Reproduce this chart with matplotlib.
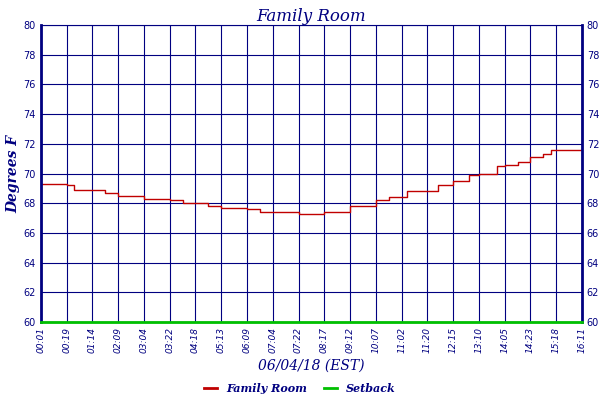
import matplotlib.pyplot as plt
from matplotlib.lines import Line2D

# tick labels along the time axis
time_labels = ['00:01', '00:19', '01:14', '02:09', '03:04', '03:22', '04:18', '05:13', '06:09', '07:04',
               '07:22', '08:17', '09:12', '10:07', '11:02', '11:20', '12:15', '13:10', '14:05', '14:23',
               '15:18', '16:11']
# readings: position (in tick units) and temperature
room_pos = [0, 1.0, 1.3, 2.0, 2.5, 3.0, 4.0, 5.0, 5.5, 6.0, 6.5, 7.0, 8.0, 8.5, 9.0, 10.0, 11.0,
            11.6, 12.0, 12.6, 13.0, 13.5, 14.2, 15.0, 15.4, 16.0, 16.6, 17.0, 17.7, 18.0, 18.5,
            19.0, 19.5, 19.8, 20.0, 20.3, 21.0]
room_temp = [69.3, 69.2, 68.9, 68.9, 68.7, 68.5, 68.3, 68.2, 68.0, 68.0, 67.8, 67.7, 67.6, 67.4,
             67.4, 67.3, 67.4, 67.4, 67.8, 67.8, 68.2, 68.4, 68.8, 68.8, 69.2, 69.5, 69.9, 70.0,
             70.5, 70.6, 70.8, 71.1, 71.3, 71.6, 71.6, 71.6, 71.6]
setback_temp = [60, 60]

navy = '#000080'
fig = plt.figure(figsize=(6, 4), dpi=100)
ax = fig.add_axes([0.068, 0.195, 0.902, 0.7425])
ax.step(room_pos, room_temp, where='post', color='#c00000', linewidth=1)
ax.plot([0, len(time_labels) - 1], setback_temp, color='#00c000', linewidth=2, clip_on=False, zorder=5)
ax.set_xlim(0, len(time_labels) - 1)
ax.set_ylim(60, 80)
ax.set_yticks(range(60, 81, 2))
ax.set_xticks(range(len(time_labels)))
ax.set_xticklabels(time_labels, rotation=90, fontsize=6.5, style='italic', color=navy)
ax.tick_params(axis='y', labelsize=7, labelcolor=navy, right=True, labelright=True, length=0)
ax.tick_params(axis='x', length=0)
ax.grid(True, color=navy, linewidth=0.8)
for s in ax.spines.values():
    s.set_color(navy)
ax.spines['left'].set_linewidth(2)
ax.spines['right'].set_linewidth(2)
ax.set_title('Family Room', fontsize=12, style='italic', family='DejaVu Serif', color=navy, pad=3)
ax.set_ylabel('Degrees F', fontsize=10, style='italic', family='DejaVu Serif', weight='bold', color=navy, labelpad=2)
ax.set_xlabel('06/04/18 (EST)', fontsize=10, style='italic', family='DejaVu Serif', color=navy, labelpad=4)
handles = [Line2D([], [], color='#c00000', lw=2), Line2D([], [], color='#00c000', lw=2)]
fig.legend(handles, ['Family Room', 'Setback'], loc='lower center', ncol=2, frameon=False,
           bbox_to_anchor=(0.5, -0.01), handlelength=1.2, columnspacing=1.5,
           prop={'size': 8, 'style': 'italic', 'weight': 'bold', 'family': 'DejaVu Serif'}, labelcolor=navy)
fig.savefig('out.png', dpi=100)
